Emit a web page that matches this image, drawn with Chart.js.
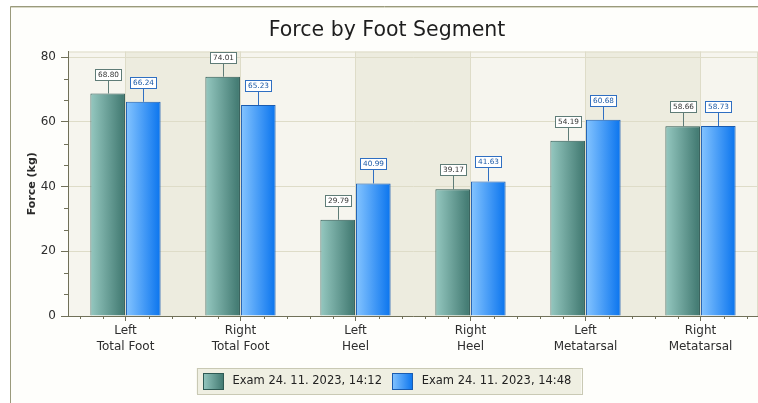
<!DOCTYPE html>
<html><head><meta charset="utf-8">
<script src="https://cdn.jsdelivr.net/npm/chart.js@4"></script>
<style>html,body{margin:0;padding:0;background:#fff;}canvas{display:block;}</style>
</head><body>
<canvas id="c" width="758" height="403"></canvas>
<script>
// ---- data ----
const categories = [['Left','Total Foot'],['Right','Total Foot'],['Left','Heel'],['Right','Heel'],['Left','Metatarsal'],['Right','Metatarsal']];
const seriesNames = ['Exam 24. 11. 2023, 14:12','Exam 24. 11. 2023, 14:48'];
const exam1412 = [68.80, 74.01, 29.79, 39.17, 54.19, 58.66];
const exam1448 = [66.24, 65.23, 40.99, 41.63, 60.68, 58.73];
const yTicks = [0, 20, 40, 60, 80];
const yMax = 81.8;
const chartTitle = 'Force by Foot Segment';
const yTitle = 'Force (kg)';

// ---- style ----
const CAT_PCT = 0.62, BAR_PCT = 0.97;
const palettes = [
  {light:'#95c8c0', dark:'#3f776f', border:'#2e5a54', labelText:'#333333', labelBorder:'#5f7c77'},
  {light:'#84c4ff', dark:'#0a74ee', border:'#1a5cb0', labelText:'#1d5aa6', labelBorder:'#2f6fc2'}
];
const AXIS = '#707058';
const GRID = '#dedcc8';
const FONT = '"DejaVu Sans", sans-serif';
Chart.defaults.font.family = FONT;
Chart.defaults.color = '#2e2e2e';

function barFill(ctx){
  const chart = ctx.chart, p = palettes[ctx.datasetIndex];
  const xs = chart.scales && chart.scales.x;
  if (ctx.type !== 'data' || !xs || !xs.width) return p.dark;
  const cw = xs.width / categories.length;
  const gw = cw * CAT_PCT, slot = gw / 2;
  const c = xs.getPixelForValue(ctx.dataIndex) - gw / 2 + slot * (ctx.datasetIndex + 0.5);
  const w = slot * BAR_PCT;
  const g = chart.ctx.createLinearGradient(c - w / 2, 0, c + w / 2, 0);
  g.addColorStop(0, p.light);
  g.addColorStop(1, p.dark);
  return g;
}

const decor = {
  id: 'decor',
  beforeDraw(chart){
    const ctx = chart.ctx, a = chart.chartArea, xs = chart.scales.x;
    ctx.save();
    ctx.fillStyle = '#ffffff';
    ctx.fillRect(0, 0, chart.width, chart.height);
    ctx.fillStyle = '#fefefb';
    ctx.fillRect(10, 6, chart.width - 10, chart.height - 6);
    ctx.strokeStyle = '#9a9a7c';
    ctx.lineWidth = 1;
    ctx.beginPath();
    ctx.moveTo(10.5, chart.height); ctx.lineTo(10.5, 6.5); ctx.lineTo(chart.width, 6.5);
    ctx.stroke();
    ctx.strokeStyle = '#d8d8c6';
    ctx.beginPath(); ctx.moveTo(11, 7.5); ctx.lineTo(chart.width, 7.5); ctx.stroke();
    // stripes
    const bounds = [a.left];
    for (let i = 0; i < categories.length; i++) bounds.push(xs.getPixelForValue(i));
    bounds.push(a.right);
    for (let k = 0; k < bounds.length - 1; k++) {
      ctx.fillStyle = k % 2 === 0 ? '#f6f5ee' : '#edecdf';
      ctx.fillRect(bounds[k], a.top, bounds[k + 1] - bounds[k], a.bottom - a.top);
    }
    ctx.strokeStyle = GRID;
    ctx.strokeRect(a.left + 0.5, a.top + 0.5, a.right - a.left - 1, a.bottom - a.top);
    // legend background
    const lg = chart.legend;
    if (lg && lg.legendHitBoxes && lg.legendHitBoxes.length) {
      const hb = lg.legendHitBoxes;
      const l = Math.min(...hb.map(h => h.left)) - 6;
      const r = Math.max(...hb.map(h => h.left + h.width)) + 10;
      const t = hb[0].top - 5, b = hb[0].top + hb[0].height + 4;
      ctx.fillStyle = '#efefe2';
      ctx.fillRect(l, t, r - l, b - t);
      ctx.strokeStyle = '#c9c9b4';
      ctx.strokeRect(Math.round(l) + 0.5, Math.round(t) + 0.5, Math.round(r - l), Math.round(b - t));
    }
    ctx.restore();
  },
  afterDraw(chart){
    const ctx = chart.ctx, a = chart.chartArea, xs = chart.scales.x, ys = chart.scales.y;
    ctx.save();
    ctx.strokeStyle = AXIS;
    ctx.lineWidth = 1;
    // y minor ticks
    ctx.beginPath();
    for (let k = 1; k * 20 / 3 < yMax; k++) {
      if (k % 3 === 0) continue;
      const y = Math.round(ys.getPixelForValue(k * 20 / 3)) + 0.5;
      ctx.moveTo(a.left - 4, y); ctx.lineTo(a.left, y);
    }
    // x minor ticks
    const step = xs.width / categories.length / 5;
    const c0 = xs.getPixelForValue(0);
    for (let k = -10; k < 40; k++) {
      if (k % 5 === 0) continue;
      const x = c0 + k * step;
      if (x <= a.left + 1 || x >= a.right - 1) continue;
      const xr = Math.round(x) + 0.5;
      ctx.moveTo(xr, a.bottom); ctx.lineTo(xr, a.bottom + 3);
    }
    ctx.stroke();
    // legend swatches
    const lg = chart.legend;
    if (lg && lg.legendHitBoxes) {
      lg.legendHitBoxes.forEach((h, i) => {
        const p = palettes[i];
        const x = Math.round(h.left), y = Math.round(h.top + (h.height - 17) / 2);
        const g = ctx.createLinearGradient(x, 0, x + 21, 0);
        g.addColorStop(0, p.light); g.addColorStop(1, p.dark);
        ctx.fillStyle = g;
        ctx.fillRect(x, y, 21, 17);
        ctx.strokeStyle = p.border;
        ctx.strokeRect(x + 0.5, y + 0.5, 20, 16);
      });
    }
    ctx.restore();
  },
  afterDatasetsDraw(chart){
    const ctx = chart.ctx;
    ctx.save();
    ctx.font = '7.3px ' + FONT;
    ctx.textAlign = 'center';
    ctx.textBaseline = 'middle';
    ctx.lineWidth = 1;
    chart.data.datasets.forEach((ds, di) => {
      const p = palettes[di];
      chart.getDatasetMeta(di).data.forEach((el, i) => {
        const txt = ds.data[i].toFixed(2);
        const w = Math.round(ctx.measureText(txt).width) + 6, h = 12;
        const x = Math.round(el.x);
        const by = Math.round(el.y - 13 - h);
        ctx.strokeStyle = p.labelBorder;
        ctx.beginPath(); ctx.moveTo(x + 0.5, by + h); ctx.lineTo(x + 0.5, el.y); ctx.stroke();
        const bx = Math.round(x - w / 2);
        ctx.fillStyle = '#ffffff';
        ctx.fillRect(bx, by, w, h);
        ctx.strokeRect(bx + 0.5, by + 0.5, w - 1, h - 1);
        ctx.fillStyle = p.labelText;
        ctx.fillText(txt, x + 0.5, by + h / 2 + 0.5);
      });
    });
    ctx.restore();
  }
};

new Chart(document.getElementById('c'), {
  type: 'bar',
  data: {
    labels: categories,
    datasets: [
      {label: seriesNames[0], data: exam1412, backgroundColor: barFill, borderColor: palettes[0].border, borderWidth: 1, borderSkipped: 'bottom'},
      {label: seriesNames[1], data: exam1448, backgroundColor: barFill, borderColor: palettes[1].border, borderWidth: 1, borderSkipped: 'bottom'}
    ]
  },
  options: {
    responsive: false,
    animation: false,
    devicePixelRatio: 1,
    datasets: {bar: {categoryPercentage: CAT_PCT, barPercentage: BAR_PCT}},
    layout: {padding: {left: 16, right: 0, top: 0, bottom: 3}},
    plugins: {
      title: {display: true, text: chartTitle, color: '#1e1e1e', font: {size: 20.5, weight: 'normal', family: FONT}, padding: {top: 18.5, bottom: 8.4}},
      legend: {
        position: 'bottom',
        labels: {
          boxWidth: 24, boxHeight: 17, padding: 10, color: '#222',
          font: {size: 11.5, family: FONT},
          generateLabels: chart => chart.data.datasets.map((ds, i) => ({
            text: ds.label, fillStyle: 'rgba(0,0,0,0)', strokeStyle: 'rgba(0,0,0,0)', lineWidth: 0,
            hidden: false, datasetIndex: i, fontColor: '#222'
          }))
        }
      },
      tooltip: {enabled: false}
    },
    scales: {
      x: {
        offset: true,
        grid: {offset: false, color: GRID, tickColor: AXIS, tickLength: 5, lineWidth: 1},
        border: {color: AXIS, width: 1},
        ticks: {font: {size: 12, family: FONT, lineHeight: 1.3}, color: '#2e2e2e', padding: 2, maxRotation: 0, autoSkip: false},
        afterFit: s => { s.height = 47; }
      },
      y: {
        min: 0, max: yMax,
        afterBuildTicks: s => { s.ticks = yTicks.map(v => ({value: v})); },
        grid: {color: GRID, tickColor: AXIS, tickLength: 7, lineWidth: 1},
        border: {color: AXIS, width: 1},
        ticks: {font: {size: 12, family: FONT}, color: '#2e2e2e', padding: 5},
        title: {display: true, text: yTitle, color: '#2a2a2a', font: {size: 11, weight: 'bold', family: FONT}, padding: {top: 9.4, bottom: 0}},
        afterFit: s => { s.width = 52; }
      }
    }
  },
  plugins: [decor]
});
</script>
</body></html>
